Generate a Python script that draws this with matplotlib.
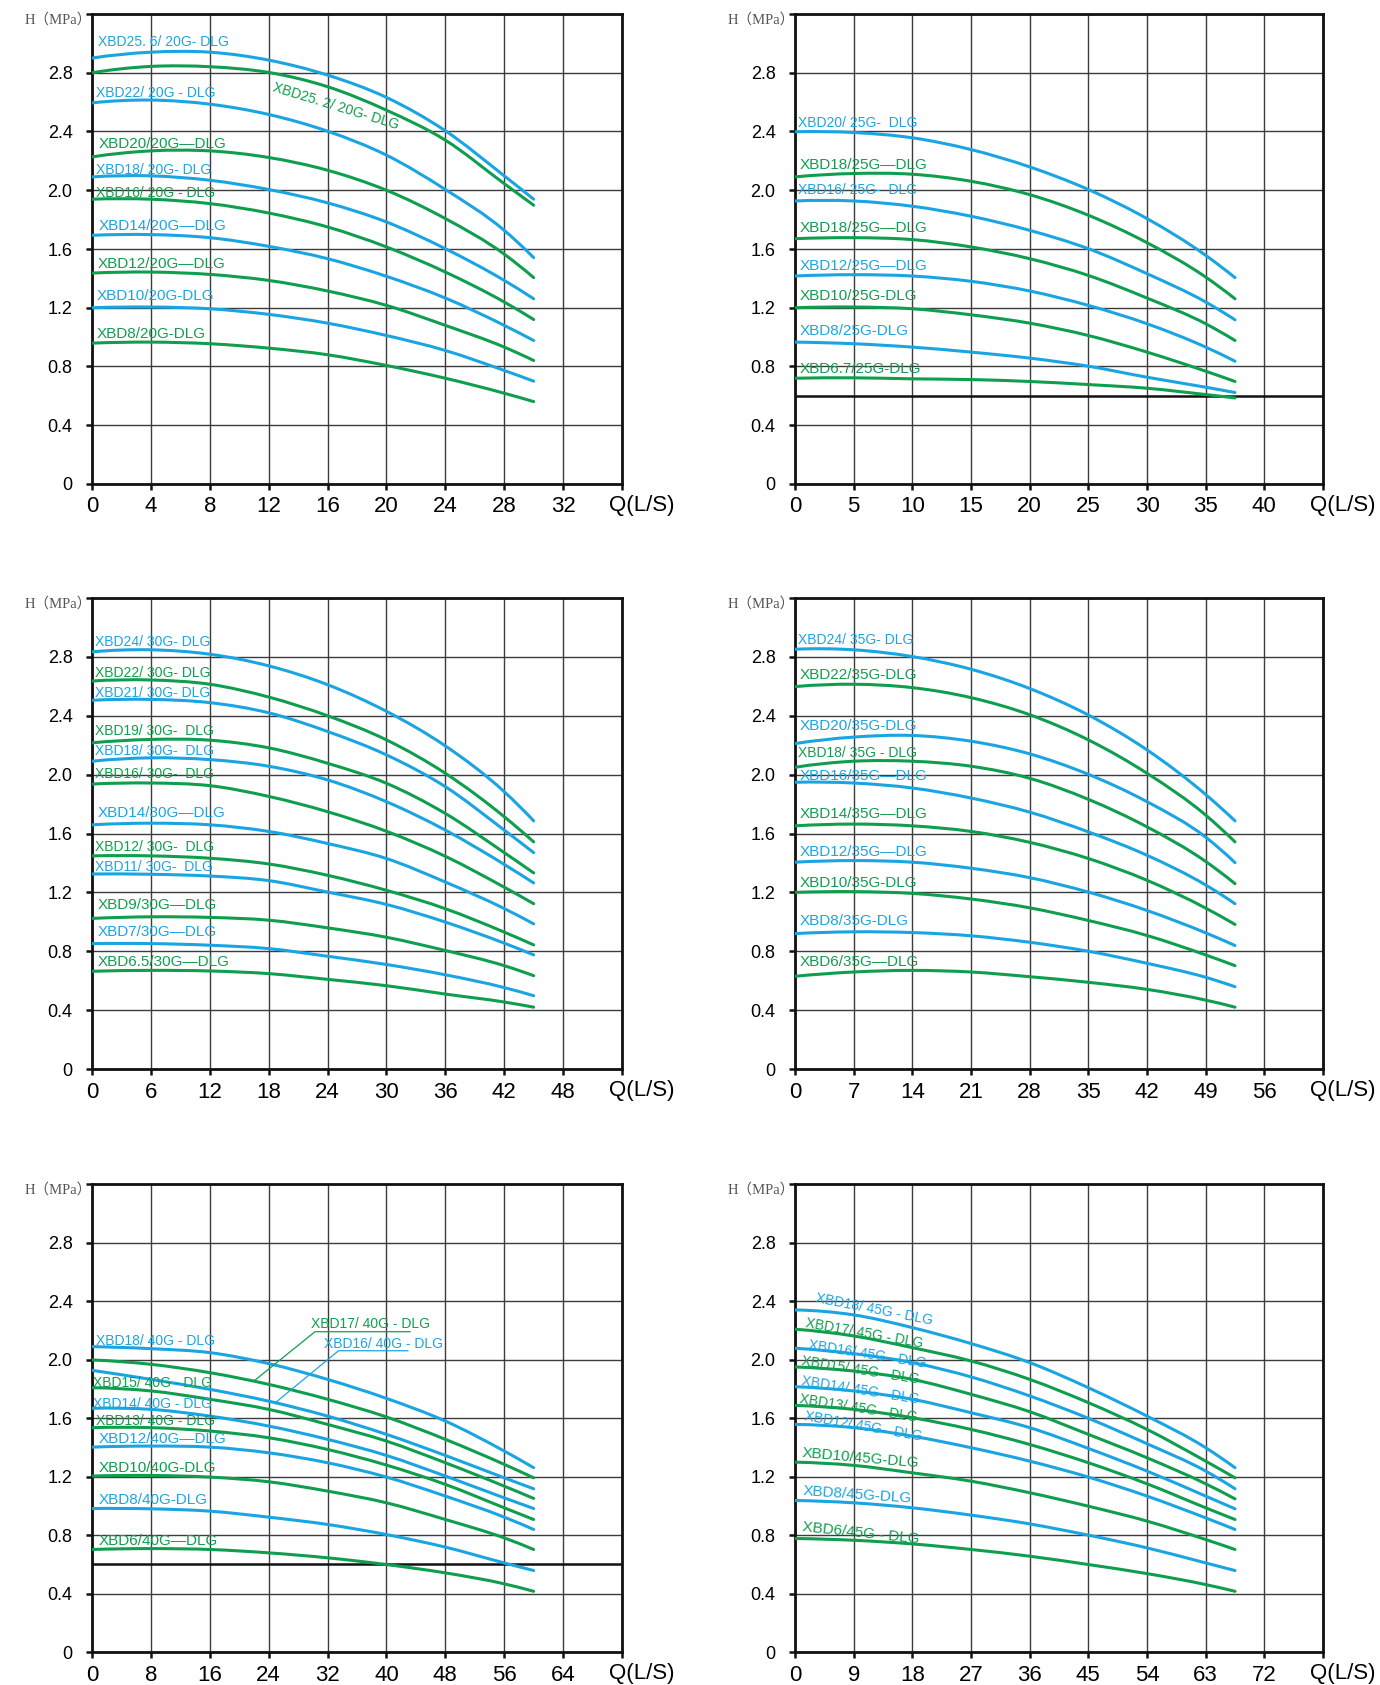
import matplotlib
matplotlib.use('Agg')
import matplotlib.pyplot as plt
from matplotlib.path import Path
from matplotlib.patches import PathPatch

BLUE = '#1AA5E2'
GREEN = '#0F9E4D'

# ---- panel 1 : 20G ----
q_20 = [0, 4, 8, 12, 16, 20, 24, 28, 30]
names_20 = ['XBD25. 6/ 20G- DLG', 'XBD25. 2/ 20G- DLG', 'XBD22/ 20G - DLG', 'XBD20/20G—DLG',
            'XBD18/ 20G- DLG', 'XBD16/ 20G - DLG', 'XBD14/20G—DLG', 'XBD12/20G—DLG',
            'XBD10/20G-DLG', 'XBD8/20G-DLG']
h_20 = [
    [2.90, 2.94, 2.94, 2.886, 2.784, 2.632, 2.405, 2.098, 1.939],
    [2.80, 2.843, 2.841, 2.802, 2.705, 2.545, 2.341, 2.045, 1.898],
    [2.595, 2.614, 2.586, 2.516, 2.402, 2.239, 2.005, 1.727, 1.541],
    [2.227, 2.268, 2.268, 2.223, 2.136, 2.0, 1.807, 1.565, 1.405],
    [2.091, 2.098, 2.068, 2.005, 1.914, 1.784, 1.602, 1.386, 1.261],
    [1.939, 1.939, 1.909, 1.845, 1.75, 1.614, 1.443, 1.239, 1.12],
    [1.693, 1.698, 1.677, 1.618, 1.534, 1.414, 1.266, 1.08, 0.977],
    [1.436, 1.443, 1.427, 1.386, 1.314, 1.216, 1.08, 0.932, 0.841],
    [1.2, 1.205, 1.193, 1.155, 1.095, 1.011, 0.909, 0.773, 0.70],
    [0.959, 0.966, 0.955, 0.925, 0.88, 0.807, 0.72, 0.618, 0.561],
]

# ---- panel 2 : 25G ----
q_25 = [0, 5, 10, 15, 20, 25, 30, 35, 37.5]
names_25 = ['XBD20/ 25G-  DLG', 'XBD18/25G—DLG', 'XBD16/ 25G-  DLG', 'XBD18/25G—DLG',
            'XBD12/25G—DLG', 'XBD10/25G-DLG', 'XBD8/25G-DLG', 'XBD6.7/25G-DLG']
h_25 = [
    [2.398, 2.393, 2.357, 2.277, 2.159, 2.005, 1.807, 1.557, 1.405],
    [2.091, 2.114, 2.109, 2.061, 1.97, 1.83, 1.643, 1.409, 1.261],
    [1.927, 1.927, 1.891, 1.823, 1.727, 1.602, 1.432, 1.239, 1.118],
    [1.67, 1.677, 1.664, 1.614, 1.534, 1.42, 1.266, 1.091, 0.977],
    [1.416, 1.425, 1.416, 1.38, 1.314, 1.216, 1.091, 0.932, 0.836],
    [1.2, 1.205, 1.193, 1.152, 1.095, 1.011, 0.898, 0.768, 0.698],
    [0.966, 0.955, 0.932, 0.898, 0.857, 0.802, 0.727, 0.659, 0.623],
    [0.72, 0.723, 0.716, 0.711, 0.698, 0.677, 0.652, 0.609, 0.586],
]

# ---- panel 3 : 30G ----
q_30 = [0, 6, 12, 18, 24, 30, 36, 42, 45]
names_30 = ['XBD24/ 30G- DLG', 'XBD22/ 30G- DLG', 'XBD21/ 30G- DLG', 'XBD19/ 30G-  DLG',
            'XBD18/ 30G-  DLG', 'XBD16/ 30G-  DLG', 'XBD14/30G—DLG', 'XBD12/ 30G-  DLG',
            'XBD11/ 30G-  DLG', 'XBD9/30G—DLG', 'XBD7/30G—DLG', 'XBD6.5/30G—DLG']
h_30 = [
    [2.834, 2.848, 2.818, 2.739, 2.611, 2.43, 2.195, 1.884, 1.686],
    [2.636, 2.643, 2.614, 2.527, 2.40, 2.236, 2.009, 1.714, 1.543],
    [2.505, 2.511, 2.489, 2.42, 2.293, 2.134, 1.918, 1.623, 1.47],
    [2.216, 2.239, 2.234, 2.182, 2.077, 1.941, 1.736, 1.47, 1.332],
    [2.091, 2.114, 2.102, 2.057, 1.964, 1.816, 1.623, 1.39, 1.264],
    [1.936, 1.943, 1.925, 1.852, 1.748, 1.615, 1.445, 1.235, 1.123],
    [1.659, 1.67, 1.659, 1.614, 1.532, 1.43, 1.27, 1.09, 0.986],
    [1.448, 1.448, 1.432, 1.393, 1.316, 1.214, 1.089, 0.93, 0.843],
    [1.325, 1.323, 1.311, 1.28, 1.202, 1.118, 0.998, 0.855, 0.775],
    [1.023, 1.034, 1.03, 1.011, 0.959, 0.895, 0.805, 0.702, 0.634],
    [0.852, 0.852, 0.841, 0.818, 0.766, 0.71, 0.64, 0.553, 0.498],
    [0.664, 0.67, 0.666, 0.648, 0.609, 0.566, 0.509, 0.455, 0.42],
]

# ---- panel 4 : 35G ----
q_35 = [0, 7, 14, 21, 28, 35, 42, 49, 52.5]
names_35 = ['XBD24/ 35G- DLG', 'XBD22/35G-DLG', 'XBD20/35G-DLG', 'XBD18/ 35G - DLG',
            'XBD16/35G—DLG', 'XBD14/35G—DLG', 'XBD12/35G—DLG', 'XBD10/35G-DLG',
            'XBD8/35G-DLG', 'XBD6/35G—DLG']
h_35 = [
    [2.852, 2.848, 2.802, 2.716, 2.585, 2.405, 2.168, 1.865, 1.686],
    [2.598, 2.614, 2.591, 2.523, 2.407, 2.236, 2.009, 1.725, 1.543],
    [2.211, 2.255, 2.266, 2.227, 2.141, 2.002, 1.816, 1.575, 1.402],
    [2.05, 2.091, 2.091, 2.057, 1.975, 1.832, 1.645, 1.41, 1.259],
    [1.948, 1.943, 1.909, 1.841, 1.745, 1.611, 1.452, 1.25, 1.123],
    [1.652, 1.664, 1.652, 1.614, 1.54, 1.43, 1.282, 1.093, 0.982],
    [1.405, 1.416, 1.405, 1.364, 1.30, 1.202, 1.077, 0.925, 0.839],
    [1.2, 1.205, 1.193, 1.155, 1.095, 1.009, 0.907, 0.775, 0.702],
    [0.92, 0.932, 0.927, 0.905, 0.861, 0.80, 0.718, 0.623, 0.559],
    [0.63, 0.659, 0.67, 0.659, 0.627, 0.589, 0.541, 0.468, 0.42],
]

# ---- panel 5 : 40G ----
q_40 = [0, 8, 16, 24, 32, 40, 48, 56, 60]
names_40 = ['XBD18/ 40G - DLG', 'XBD17/ 40G - DLG', 'XBD16/ 40G - DLG', 'XBD15/ 40G - DLG',
            'XBD14/ 40G - DLG', 'XBD13/ 40G - DLG', 'XBD12/40G—DLG', 'XBD10/40G-DLG',
            'XBD8/40G-DLG', 'XBD6/40G—DLG']
h_40 = [
    [2.088, 2.074, 2.047, 1.972, 1.864, 1.734, 1.579, 1.374, 1.26],
    [1.997, 1.967, 1.91, 1.83, 1.728, 1.607, 1.454, 1.283, 1.191],
    [1.926, 1.864, 1.796, 1.715, 1.613, 1.488, 1.344, 1.191, 1.116],
    [1.807, 1.785, 1.728, 1.659, 1.556, 1.442, 1.294, 1.134, 1.05],
    [1.666, 1.659, 1.613, 1.545, 1.454, 1.344, 1.203, 1.054, 0.981],
    [1.534, 1.534, 1.511, 1.465, 1.385, 1.278, 1.146, 0.986, 0.906],
    [1.401, 1.408, 1.401, 1.362, 1.294, 1.196, 1.066, 0.922, 0.838],
    [1.203, 1.207, 1.196, 1.164, 1.1, 1.02, 0.906, 0.78, 0.701],
    [0.981, 0.979, 0.963, 0.922, 0.872, 0.803, 0.717, 0.609, 0.557],
    [0.701, 0.707, 0.701, 0.678, 0.644, 0.598, 0.541, 0.466, 0.415],
]

# ---- panel 6 : 45G ----
q_45 = [0, 9, 18, 27, 36, 45, 54, 63, 67.5]
names_45 = ['XBD18/ 45G - DLG', 'XBD17/ 45G - DLG', 'XBD16/ 45G - DLG', 'XBD15/ 45G - DLG',
            'XBD14/ 45G - DLG', 'XBD13/ 45G-  DLG', 'XBD12/ 45G-  DLG', 'XBD10/45G-DLG',
            'XBD8/45G-DLG', 'XBD6/45G - DLG']
h_45 = [
    [2.339, 2.305, 2.218, 2.109, 1.979, 1.807, 1.613, 1.397, 1.26],
    [2.207, 2.161, 2.081, 1.99, 1.864, 1.705, 1.522, 1.305, 1.191],
    [2.077, 2.04, 1.979, 1.881, 1.751, 1.598, 1.424, 1.237, 1.116],
    [1.949, 1.921, 1.864, 1.762, 1.643, 1.488, 1.328, 1.15, 1.047],
    [1.814, 1.785, 1.728, 1.636, 1.534, 1.392, 1.237, 1.066, 0.979],
    [1.686, 1.659, 1.602, 1.522, 1.419, 1.294, 1.15, 0.986, 0.906],
    [1.556, 1.534, 1.476, 1.397, 1.305, 1.196, 1.066, 0.917, 0.838],
    [1.298, 1.276, 1.225, 1.168, 1.089, 0.997, 0.895, 0.769, 0.701],
    [1.036, 1.02, 0.986, 0.936, 0.876, 0.799, 0.712, 0.609, 0.557],
    [0.776, 0.764, 0.739, 0.701, 0.655, 0.598, 0.536, 0.461, 0.415],
]

y_ticks = [0, 0.4, 0.8, 1.2, 1.6, 2.0, 2.4, 2.8]
limit_h = 0.6   # black line on 25G and 40G charts

SANS = ['Liberation Sans', 'DejaVu Sans']

# label layout: (x, y, rotation, narrow style?)
lab_20 = [(0.4, 3.01, 0, 1), (12.3, 2.70, -17, 1), (0.3, 2.664, 0, 1), (0.45, 2.318, 0, 0),
          (0.3, 2.141, 0, 1), (0.3, 1.984, 0, 1), (0.45, 1.755, 0, 0), (0.4, 1.50, 0, 0),
          (0.3, 1.28, 0, 0), (0.3, 1.023, 0, 0)]
lab_25 = [(0.25, 2.459, 0, 1), (0.4, 2.175, 0, 0), (0.25, 2.0, 0, 1), (0.4, 1.745, 0, 0),
          (0.4, 1.484, 0, 0), (0.4, 1.277, 0, 0), (0.4, 1.045, 0, 0), (0.4, 0.782, 0, 0)]
lab_30 = [(0.3, 2.898, 0, 1), (0.3, 2.689, 0, 1), (0.3, 2.557, 0, 1), (0.3, 2.293, 0, 1),
          (0.3, 2.159, 0, 1), (0.3, 2.007, 0, 1), (0.55, 1.739, 0, 0), (0.3, 1.505, 0, 1),
          (0.3, 1.375, 0, 1), (0.55, 1.114, 0, 0), (0.55, 0.932, 0, 0), (0.55, 0.727, 0, 0)]
lab_35 = [(0.3, 2.916, 0, 1), (0.5, 2.675, 0, 0), (0.5, 2.33, 0, 0), (0.3, 2.148, 0, 1),
          (0.5, 1.993, 0, 0), (0.5, 1.734, 0, 0), (0.5, 1.473, 0, 0), (0.5, 1.266, 0, 0),
          (0.5, 1.007, 0, 0), (0.5, 0.725, 0, 0)]
lab_40 = [(0.5, 2.127, 0, 1), (29.7, 2.245, 0, 1), (31.5, 2.105, 0, 1), (0.2, 1.842, 0, 1),
          (0.2, 1.698, 0, 1), (0.6, 1.579, 0, 1), (0.9, 1.458, 0, 0), (0.9, 1.255, 0, 0),
          (0.9, 1.036, 0, 0), (0.9, 0.762, 0, 0)]
lab_45 = [(3.2, 2.42, -11, 1), (1.7, 2.25, -10, 1), (2.1, 2.10, -9, 1), (1.0, 1.99, -9, 1),
          (1.0, 1.853, -9, 1), (0.7, 1.727, -9, 1), (1.5, 1.613, -10, 1), (1.15, 1.362, -5, 0),
          (1.15, 1.10, -4, 0), (1.15, 0.853, -6, 0)]

panels = [
    (q_20, names_20, h_20, lab_20, 4, False),
    (q_25, names_25, h_25, lab_25, 5, True),
    (q_30, names_30, h_30, lab_30, 6, False),
    (q_35, names_35, h_35, lab_35, 7, False),
    (q_40, names_40, h_40, lab_40, 8, True),
    (q_45, names_45, h_45, lab_45, 9, False),
]


def smooth_curve(x, y):
    # draw the read points as one smooth bezier path (hermite tangents)
    n = len(x)
    hs = [x[i + 1] - x[i] for i in range(n - 1)]
    sl = [(y[i + 1] - y[i]) / hs[i] for i in range(n - 1)]
    m = [0.0] * n
    for i in range(1, n - 1):
        m[i] = (hs[i - 1] * sl[i] + hs[i] * sl[i - 1]) / (hs[i - 1] + hs[i])
    m[0] = 2 * sl[0] - m[1]
    m[-1] = 2 * sl[-1] - m[-2]
    verts = [(x[0], y[0])]
    codes = [Path.MOVETO]
    for i in range(n - 1):
        h = hs[i]
        verts += [(x[i] + h / 3, y[i] + m[i] * h / 3),
                  (x[i + 1] - h / 3, y[i + 1] - m[i + 1] * h / 3),
                  (x[i + 1], y[i + 1])]
        codes += [Path.CURVE4] * 3
    return Path(verts, codes)


W, H = 1380, 1685
fig = plt.figure(figsize=(W / 100, H / 100), dpi=100)
lefts = [92, 795]
widths = [530, 528]
tops = [14, 598, 1184]
heights = [470, 471, 468]

for i, (q, names, heads, labs, step, limit) in enumerate(panels):
    r, c = divmod(i, 2)
    ax = fig.add_axes([lefts[c] / W, 1 - (tops[r] + heights[r]) / H,
                       widths[c] / W, heights[r] / H])
    ax.set_xlim(0, 9 * step)
    ax.set_ylim(0, 3.2)
    xt = [k * step for k in range(10)]
    ax.set_xticks(xt)
    ax.set_xticklabels([str(v) for v in xt[:-1]] + [''])
    ax.set_yticks(y_ticks + [3.2])
    ax.set_yticklabels([('0' if v == 0 else f'{v:.1f}') for v in y_ticks] + [''])
    ax.grid(True, color='#3c3c3c', lw=1.0)
    ax.set_axisbelow(True)
    for s in ax.spines.values():
        s.set_linewidth(2.0)
        s.set_color('#111111')
    ax.tick_params(axis='both', direction='out', length=4, width=1.8, color='#111111')
    ax.tick_params(axis='x', labelsize=16, pad=5)
    ax.tick_params(axis='y', labelsize=13, pad=10)
    for t in ax.get_xticklabels() + ax.get_yticklabels():
        t.set_family(SANS)

    if limit:
        ax.axhline(limit_h, color='#111111', lw=1.8, zorder=2.5)

    for j, (name, h) in enumerate(zip(names, heads)):
        col = BLUE if j % 2 == 0 else GREEN
        ax.add_patch(PathPatch(smooth_curve(q, h), fill=False, edgecolor=col, lw=2.2,
                               capstyle='round', transform=ax.transData, zorder=3))
        x, y, rot, nar = labs[j]
        ax.text(x, y, name, color=col, fontsize=10 if nar else 11,
                family=SANS, ha='left', va='center',
                rotation=rot, rotation_mode='anchor', zorder=4)

    if i == 4:
        # leader lines to XBD17 / XBD16
        ax.plot([22, 30.3, 43.2], [1.853, 2.19, 2.19], color=GREEN, lw=0.9, zorder=4)
        ax.plot([24.8, 33.5, 42.9], [1.70, 2.06, 2.06], color=BLUE, lw=0.9, zorder=4)

    ax.annotate('H（MPa）', xy=(0, 1), xycoords='axes fraction', xytext=(0, -4),
                textcoords='offset points', ha='right', va='center', fontsize=10.5,
                color='#555555', family=['Liberation Serif', 'Noto Sans CJK SC'])
    ax.annotate('Q(L/S)', xy=(1, 0), xycoords='axes fraction', xytext=(14, -8),
                textcoords='offset points', ha='center', va='top', fontsize=16,
                family=SANS)

fig.savefig('out.png', dpi=100)
